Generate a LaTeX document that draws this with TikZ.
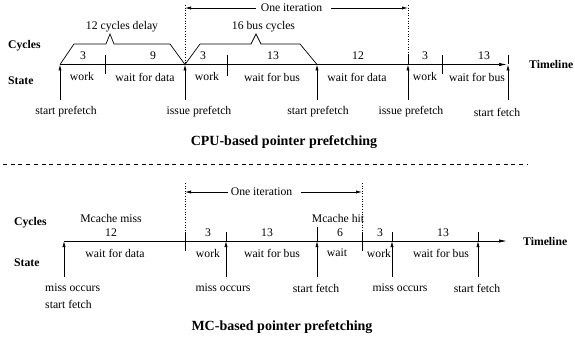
\documentclass[tikz,border=0pt]{standalone}
\usepackage{fontspec}
\setmainfont{Liberation Serif}
\usetikzlibrary{arrows.meta}
\begin{document}
\begin{tikzpicture}[x=1pt,y=-1pt,
  txt/.style={inner sep=0pt, font=\fontsize{11.7}{13}\selectfont},
  lbl/.style={inner sep=0pt, font=\fontsize{11.7}{13}\selectfont\bfseries},
  captxt/.style={inner sep=0pt, font=\fontsize{14}{16}\selectfont\bfseries},
  ln/.style={line width=0.7pt},
  uparr/.style={line width=0.7pt, -{Latex[length=6pt,width=3.2pt]}},
  tlarr/.style={line width=0.7pt, -{Latex[length=8pt,width=3.2pt]}},
  dots/.style={line width=0.6pt, dotted},
  sep/.style={line width=0.6pt, dash pattern=on 4pt off 3.7pt}
]
\useasboundingbox (0,0) rectangle (575,339);

% ---------- CPU-based pointer prefetching ----------
\def\ty{64.5}
\coordinate (t0) at (60,\ty);
\coordinate (t1) at (105,\ty);
\coordinate (t2) at (185,\ty);
\coordinate (t3) at (227,\ty);
\coordinate (t4) at (317,\ty);
\coordinate (t5) at (408,\ty);
\coordinate (t6) at (442,\ty);
\coordinate (t7) at (508,\ty);
\coordinate (tend) at (507,\ty);

\node[lbl, anchor=west] (cyc1) at (8,46) {Cycles};
\node[lbl, anchor=west] (st1) at (8,81) {State};
\node[lbl, anchor=west] (tl1) at (529,\ty) {Timeline};

\draw[tlarr] (t0) -- (tend);

% braces over the intervals
\coordinate (p1) at (110,34);
\coordinate (p2) at (256,34);
\draw[ln] (t0) -- (74,44) -- (106,44) -- (p1) -- (114,44) -- (170,44) -- (t2);
\draw[ln] (t2) -- (200,44) -- (251,44) -- (p2) -- (261,44) -- (300,44) -- (t4);
\node[txt] (d12) at (122,27) {12 cycles delay};
\node[txt] (b16) at (263.5,27) {16 bus cycles};

% ticks
\draw[ln] (105,55) -- (105,74);
\draw[ln] (227,55) -- (227,76);
\draw[ln] (442,55) -- (442,74);
\draw[ln] (408,55) -- (t5);
\draw[ln] (508,55) -- (t7);

% event arrows
\foreach \n/\x in {a0/60,a2/185,a4/317,a5/408,a7/508}
  \coordinate (\n) at (\x,100);
\draw[uparr] (a0) -- (t0);
\draw[uparr] (a2) -- (t2);
\draw[uparr] (a4) -- (t4);
\draw[uparr] (a5) -- (t5);
\draw[uparr] (a7) -- (t7);

% one iteration
\coordinate (i1a) at (185,5);
\coordinate (i1b) at (408,5);
\draw[dots] (i1a) -- (t2);
\draw[dots] (i1b) -- (408,55);
\node[txt] (it1) at (291.5,8) {One iteration};
\draw[uparr] ([xshift=-5pt]it1.west) -- (i1a |- it1);
\draw[uparr] ([xshift=9pt]it1.east) -- (i1b |- it1);

% cycle counts
\foreach \x/\t in {83/3,153/9,203/3,273/13,358/12,425/3,484/13}
  \node[txt] at (\x,56) {\t};
% states
\foreach \x/\t in {82/work,145/wait for data,207/work,272/wait for bus,357/wait for data,425/work,477/wait for bus}
  \node[txt] at (\x,77) {\t};
% events
\foreach \x/\t in {66/start prefetch,199/issue prefetch,318/start prefetch,411/issue prefetch,497/start fetch}
  \node[txt] at (\x,112) {\t};

\node[captxt] (cap1) at (284,142) {CPU-based pointer prefetching};

% separator
\coordinate (s0) at (3,164);
\coordinate (s1) at (527,164);
\draw[sep] (s0) -- (s1);

% ---------- MC-based pointer prefetching ----------
\def\by{241}
\coordinate (b0) at (64,\by);
\coordinate (b1) at (185,\by);
\coordinate (b2) at (226,\by);
\coordinate (b3) at (317,\by);
\coordinate (b4) at (362,\by);
\coordinate (b5) at (392,\by);
\coordinate (b6) at (478,\by);
\coordinate (bend) at (507,\by);

\node[lbl, anchor=west] (cyc2) at (14,223) {Cycles};
\node[lbl, anchor=west] (st2) at (14,263) {State};
\node[lbl, anchor=west] (tl2) at (523,\by) {Timeline};

\draw[tlarr] (b0) -- (bend);

% ticks
\draw[ln] (185,232) -- (185,251);
\draw[ln] (362,232) -- (362,251);
\draw[ln] (226,232) -- (b2);
\draw[ln] (317,227) -- (b3);
\draw[ln] (392,232) -- (b5);
\draw[ln] (478,232) -- (b6);

% event arrows
\foreach \n/\x in {c0/64,c2/226,c3/317,c5/392,c6/478}
  \coordinate (\n) at (\x,277);
\draw[uparr] (c0) -- (b0);
\draw[uparr] (c2) -- (b2);
\draw[uparr] (c3) -- (b3);
\draw[uparr] (c5) -- (b5);
\draw[uparr] (c6) -- (b6);

% one iteration
\coordinate (i2a) at (185,183);
\coordinate (i2b) at (362,183);
\draw[dots] (i2a) -- (185,232);
\draw[dots] (i2b) -- (362,232);
\node[txt] (it2) at (261.5,192) {One iteration};
\draw[uparr] ([xshift=-3pt]it2.west) -- (i2a |- it2);
\draw[uparr] ([xshift=9pt]it2.east) -- (i2b |- it2);

\node[txt] (mm) at (111,218) {Mcache miss};
\node[txt] (mh) at (338,218) {Mcache hit};

\foreach \x/\t in {111/12,208/3,267/13,340/6,380/3,443/13}
  \node[txt] at (\x,233) {\t};
\foreach \x/\t in {115/wait for data,208/work,272/wait for bus,337/wait,379/work,441/wait for bus}
  \node[txt] at (\x,253) {\t};

\node[txt, anchor=west] (e0a) at (45,288) {miss occurs};
\node[txt, anchor=west] (e0b) at (45,304) {start fetch};
\foreach \x/\t in {223/miss occurs,316/start fetch,400/miss occurs,477/start fetch}
  \node[txt] at (\x,288) {\t};

\node[captxt] (cap2) at (282,327) {MC-based pointer prefetching};
\end{tikzpicture}
\end{document}
